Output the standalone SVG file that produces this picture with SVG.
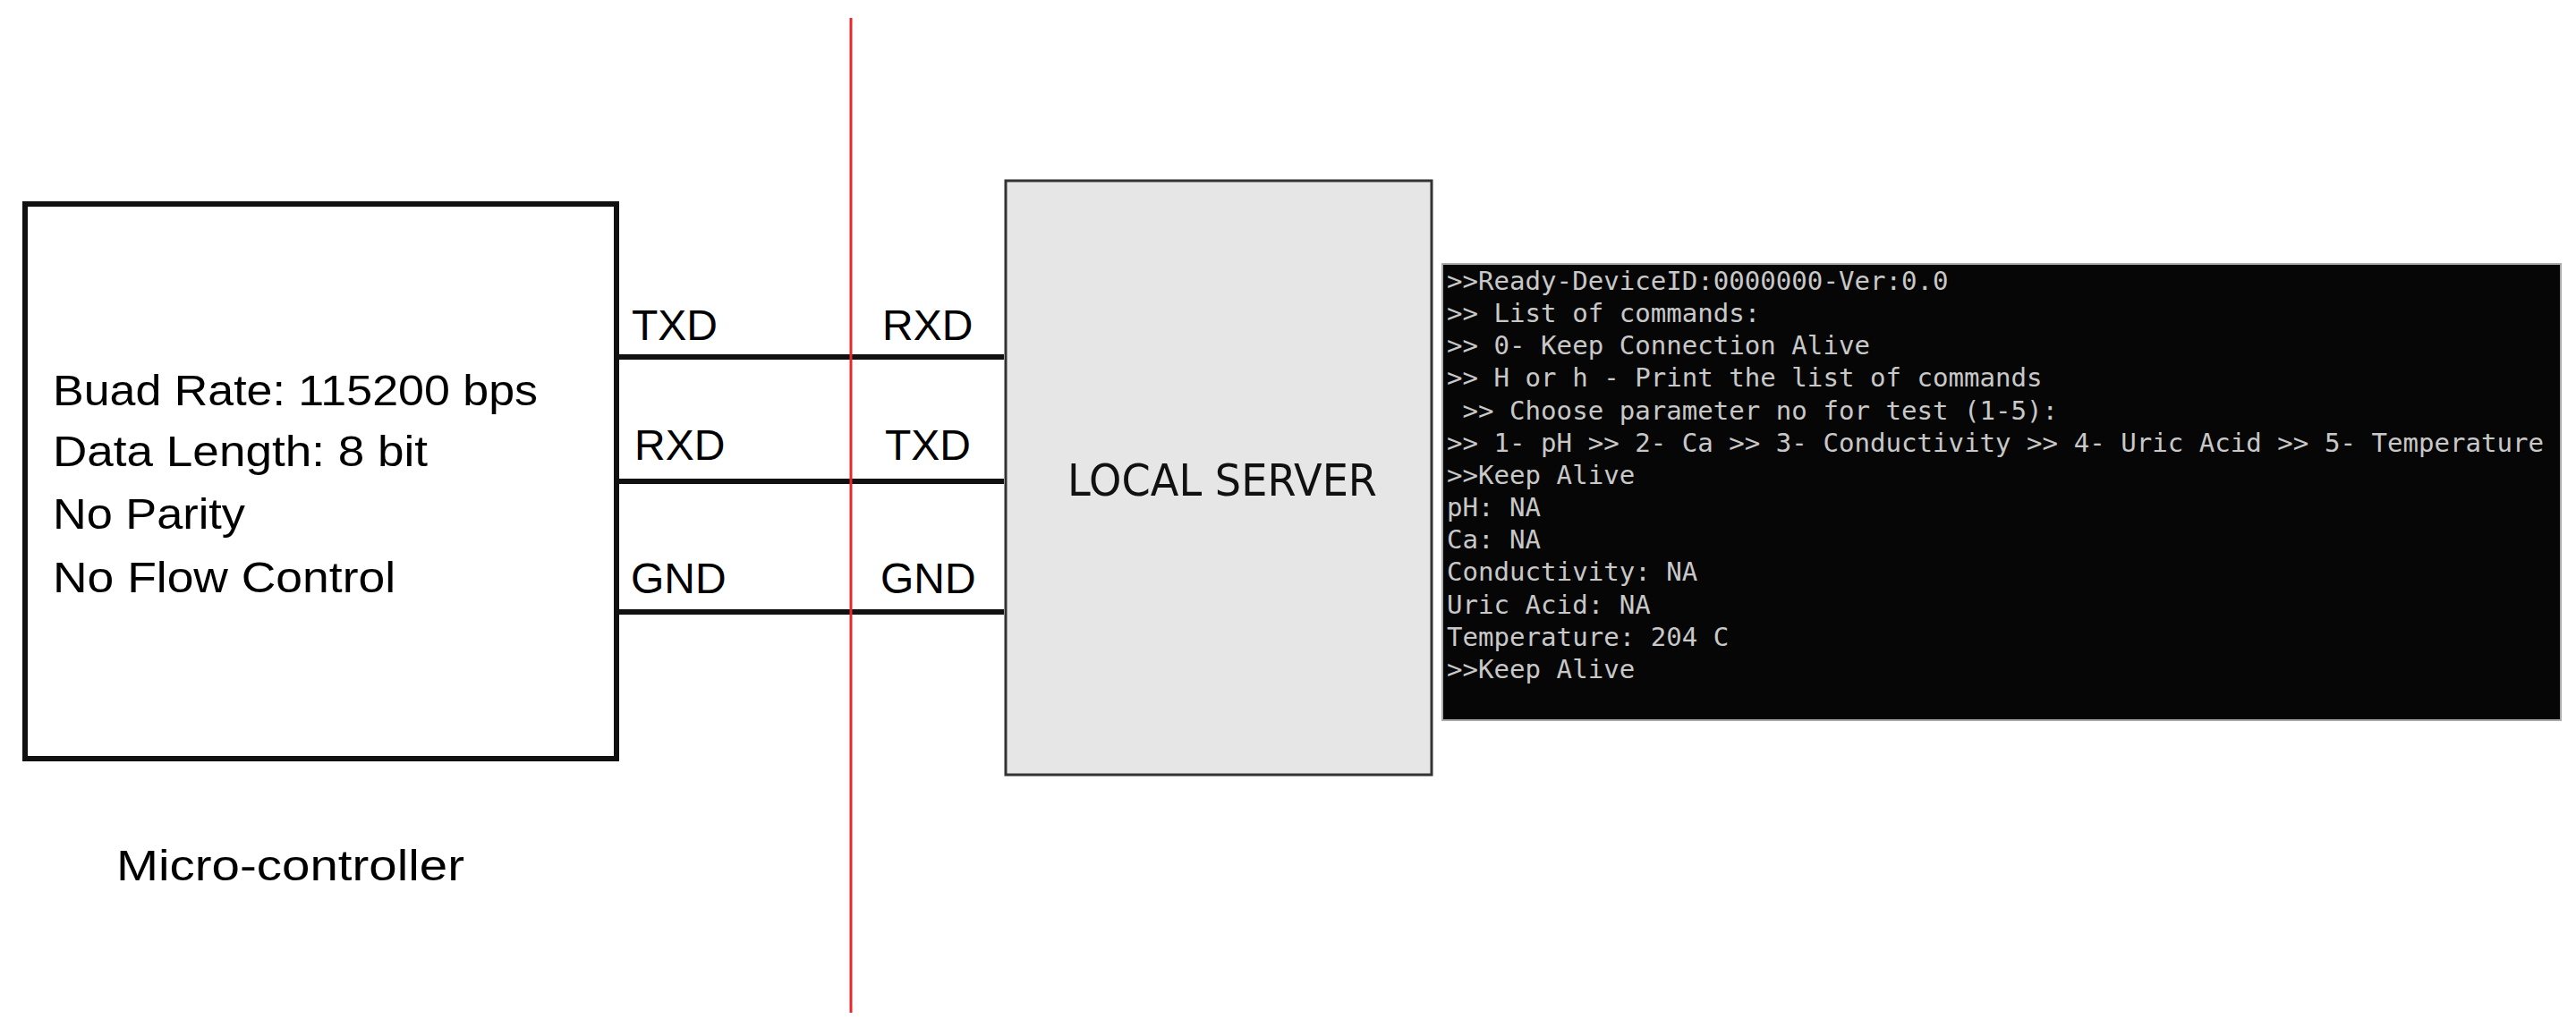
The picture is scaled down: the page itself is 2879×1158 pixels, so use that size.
<svg xmlns="http://www.w3.org/2000/svg" width="2879" height="1158" viewBox="0 0 2879 1158">
<style>
.lbl{font-family:"Liberation Sans",Arial,sans-serif;font-size:48px;fill:#000}
.srv{font-family:"DejaVu Sans",Verdana,sans-serif;font-size:50px;fill:#111}
.con{font-family:"DejaVu Sans Mono","Liberation Mono",monospace;font-size:29.1px;fill:#c8c8c8;white-space:pre}
.wire{stroke:#111;stroke-width:6;fill:none}
</style>
<rect width="2879" height="1158" fill="#fff"/>
<g id="connectors">
<line class="wire" x1="690" y1="399" x2="1122" y2="399"/>
<line class="wire" x1="690" y1="538" x2="1122" y2="538"/>
<line class="wire" x1="690" y1="684" x2="1122" y2="684"/>
<text class="lbl" x="706" y="380">TXD</text>
<text class="lbl" x="986" y="380">RXD</text>
<text class="lbl" x="709" y="514">RXD</text>
<text class="lbl" x="989" y="514">TXD</text>
<text class="lbl" x="705" y="663">GND</text>
<text class="lbl" x="984" y="663">GND</text>
</g>
<g id="divider">
<line x1="951" y1="20" x2="951" y2="1132" stroke="#e8282a" stroke-width="3"/>
</g>
<g id="microcontroller">
<rect x="28" y="228" width="661" height="620" fill="#fff" stroke="#111" stroke-width="6"/>
<text class="lbl" x="59" y="453" textLength="542" lengthAdjust="spacingAndGlyphs">Buad Rate: 115200 bps</text>
<text class="lbl" x="59" y="521" textLength="419" lengthAdjust="spacingAndGlyphs">Data Length: 8 bit</text>
<text class="lbl" x="59" y="591" textLength="215" lengthAdjust="spacingAndGlyphs">No Parity</text>
<text class="lbl" x="59" y="662" textLength="383" lengthAdjust="spacingAndGlyphs">No Flow Control</text>
<text class="lbl" x="130" y="984" font-size="54" textLength="389" lengthAdjust="spacingAndGlyphs">Micro-controller</text>
</g>
<g id="local-server">
<rect x="1124" y="202" width="476" height="664" fill="#e6e6e6" stroke="#333" stroke-width="3"/>
<text class="srv" x="1193" y="554" textLength="346" lengthAdjust="spacingAndGlyphs">LOCAL SERVER</text>
</g>
<g id="console">
<rect x="1612" y="295" width="1250" height="510" fill="#060606" stroke="#aaa" stroke-width="2"/>
<text class="con" x="1617" y="324">&gt;&gt;Ready-DeviceID:0000000-Ver:0.0</text>
<text class="con" x="1617" y="360">&gt;&gt; List of commands:</text>
<text class="con" x="1617" y="396">&gt;&gt; 0- Keep Connection Alive</text>
<text class="con" x="1617" y="432">&gt;&gt; H or h - Print the list of commands</text>
<text class="con" x="1617" y="469"> &gt;&gt; Choose parameter no for test (1-5):</text>
<text class="con" x="1617" y="505">&gt;&gt; 1- pH &gt;&gt; 2- Ca &gt;&gt; 3- Conductivity &gt;&gt; 4- Uric Acid &gt;&gt; 5- Temperature</text>
<text class="con" x="1617" y="541">&gt;&gt;Keep Alive</text>
<text class="con" x="1617" y="577">pH: NA</text>
<text class="con" x="1617" y="613">Ca: NA</text>
<text class="con" x="1617" y="649">Conductivity: NA</text>
<text class="con" x="1617" y="686">Uric Acid: NA</text>
<text class="con" x="1617" y="722">Temperature: 204 C</text>
<text class="con" x="1617" y="758">&gt;&gt;Keep Alive</text>
</g>
</svg>
